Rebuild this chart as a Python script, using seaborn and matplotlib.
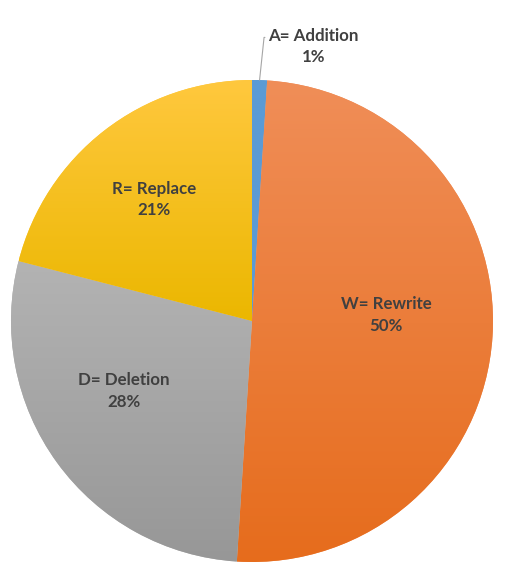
import numpy as np
import matplotlib
matplotlib.use("Agg")
import matplotlib.pyplot as plt
import seaborn as sns
from matplotlib.colors import LinearSegmentedColormap

# ---- data ----
categories = ["A= Addition", "W= Rewrite", "D= Deletion", "R= Replace"]
shares = [1, 50, 28, 21]

# ---- style ----
top_colors = ["#5B9BD5", "#F08E58", "#B3B3B3", "#FFC83E"]
bottom_colors = ["#5B9BD5", "#E66C1C", "#979797", "#EBB700"]
label_radius = [None, 0.557, 0.606, 0.647]
label_angle_shift = [0, 6.2, -7.2, 1.0]
text_color = "#404040"

sns.set_theme(style="white")
plt.rcParams["font.family"] = ["Lato", "DejaVu Sans"]

fig = plt.figure(figsize=(5.31, 5.80), dpi=100)
ax = fig.add_axes([11 / 531, 18 / 580, 482 / 531, 482 / 580])

wedges, _ = ax.pie(shares, startangle=90, counterclock=False,
                   colors=sns.color_palette(top_colors), radius=1,
                   wedgeprops=dict(linewidth=0))

# vertical gradient fill for each slice
grad = np.linspace(0, 1, 256).reshape(-1, 1)
for w, ct, cb in zip(wedges, top_colors, bottom_colors):
    v = w.get_path().vertices
    x0, x1 = v[:, 0].min(), v[:, 0].max()
    y0, y1 = v[:, 1].min(), v[:, 1].max()
    cmap = LinearSegmentedColormap.from_list("g", [cb, ct])
    im = ax.imshow(grad, cmap=cmap, extent=[x0, x1, y0, y1], origin="lower",
                   aspect="auto", zorder=w.get_zorder() + 0.1, interpolation="bilinear")
    im.set_clip_path(w)

ax.set_aspect("auto")
ax.set_xlim(-1, 1)
ax.set_ylim(-1, 1)
ax.axis("off")

fs = 12.2
for w, cat, val, r, sh in zip(wedges, categories, shares, label_radius, label_angle_shift):
    mid = np.deg2rad((w.theta1 + w.theta2) / 2 + sh)
    txt = f"{cat}\n{val:.0f}%"
    if r is None:
        px, py = np.cos(mid), np.sin(mid)
        ax.annotate(txt, xy=(px, py), xytext=(0.255, 1.139), ha="center", va="center",
                    fontsize=fs, fontweight="bold", color=text_color, linespacing=1.45,
                    annotation_clip=False,
                    arrowprops=dict(arrowstyle="-", color="#A6A6A6", lw=0.8,
                                    shrinkA=0, shrinkB=0, relpos=(0.0, 0.74),
                                    connectionstyle="angle,angleA=0,angleB=84,rad=0"))
    else:
        ax.text(r * np.cos(mid), r * np.sin(mid), txt, ha="center", va="center",
                fontsize=fs, fontweight="bold", color=text_color, linespacing=1.45)

fig.savefig("out.png", dpi=100, facecolor="white")
